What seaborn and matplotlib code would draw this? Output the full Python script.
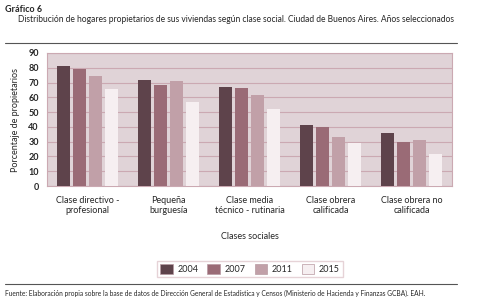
import numpy as np
import pandas as pd
import matplotlib
matplotlib.use("Agg")
import matplotlib.pyplot as plt
import seaborn as sns
from matplotlib.lines import Line2D

# data
clases = ["Clase directivo -\nprofesional", "Pequeña\nburguesía", "Clase media\ntécnico - rutinaria",
          "Clase obrera\ncalificada", "Clase obrera no\ncalificada"]
anios = ["2004", "2007", "2011", "2015"]
v2004 = [81.0, 71.7, 66.8, 41.3, 35.6]
v2007 = [79.4, 68.5, 66.1, 39.7, 29.5]
v2011 = [74.6, 71.0, 61.6, 33.4, 31.1]
v2015 = [65.4, 56.8, 52.0, 29.3, 21.6]
colores = ["#5e434b", "#9a6b76", "#c1a0a8", "#f6eff1"]

df = pd.DataFrame({
    "clase": clases * 4,
    "anio": np.repeat(anios, len(clases)),
    "valor": v2004 + v2007 + v2011 + v2015,
})

sns.set_theme(style="white")
plt.rcParams["font.family"] = ["Lato", "DejaVu Sans"]

fig = plt.figure(figsize=(4.87, 3.06), dpi=100)
ax = fig.add_axes([47 / 487, 1 - 186 / 306, 405 / 487, 133 / 306])

sns.barplot(data=df, x="clase", y="valor", hue="anio", palette=colores,
            width=0.8, gap=0.2, ax=ax, saturation=1, legend=False, zorder=3,
            linewidth=0)

ax.set_facecolor("#e0d3d7")
ax.set_ylim(0, 90)
ax.set_yticks(range(0, 91, 10))
ax.grid(axis="y", color="#cba9b2", linewidth=0.8, zorder=0)
ax.set_axisbelow(True)
for s in ax.spines.values():
    s.set_color("#cba9b2")
    s.set_linewidth(0.8)
ax.tick_params(axis="y", labelsize=6.5, length=0, pad=6)
ax.tick_params(axis="x", labelsize=6.5, length=0, pad=7)
for t in ax.get_yticklabels():
    t.set_fontweight("bold")
ax.set_xlabel("Clases sociales", fontsize=6.5, labelpad=12)
ax.set_ylabel("Porcentaje de propietarios", fontsize=6.5, labelpad=6)

# legend
handles = [plt.Rectangle((0, 0), 1, 1, facecolor=c, edgecolor="#b89aa2", linewidth=0.5) for c in colores]
fig.legend(handles, anios, loc="center", bbox_to_anchor=(250 / 487, 1 - 269 / 306), ncol=4,
           fontsize=6.5, frameon=True, edgecolor="#e0c8ce", fancybox=False,
           handlelength=1.4, handleheight=1.4, columnspacing=1.0, handletextpad=0.5,
           borderpad=0.35)

# titles and rules
fig.text(5 / 487, 1 - 10 / 306, "Gráfico 6", fontsize=6.5, fontweight="bold", va="center")
fig.text(18 / 487, 1 - 20 / 306,
         "Distribución de hogares propietarios de sus viviendas según clase social. Ciudad de Buenos Aires. Años seleccionados",
         fontsize=6.15, va="center")
fig.add_artist(Line2D([5 / 487, 457 / 487], [1 - 43 / 306, 1 - 43 / 306], color="#555555", linewidth=0.8))
fig.add_artist(Line2D([5 / 487, 457 / 487], [1 - 284 / 306, 1 - 284 / 306], color="#555555", linewidth=0.8))
fig.text(5 / 487, 1 - 293 / 306,
         "Fuente: Elaboración propia sobre la base de datos de Dirección General de Estadística y Censos (Ministerio de Hacienda y Finanzas GCBA). EAH.",
         fontsize=4.75, va="center")

fig.savefig("out.png", dpi=100, facecolor="white")
